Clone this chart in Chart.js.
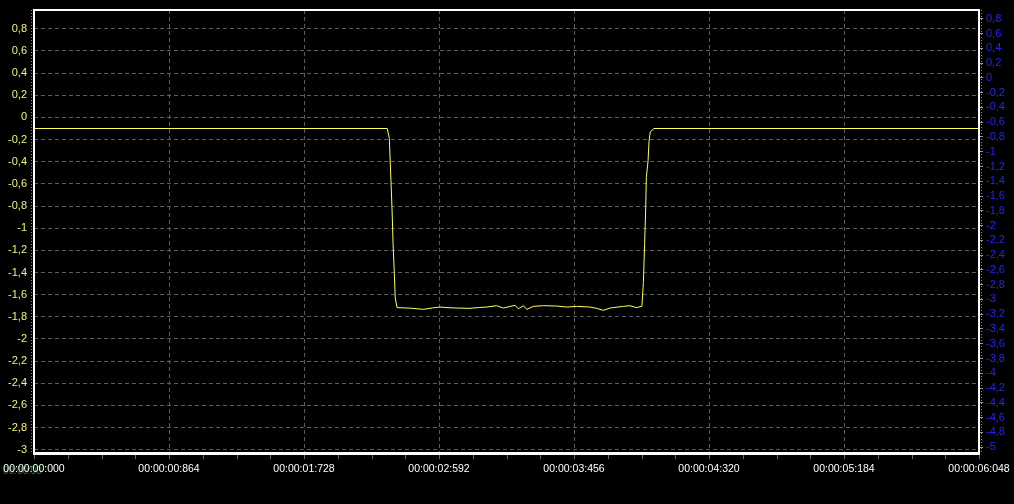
<!DOCTYPE html>
<html>
<head>
<meta charset="utf-8">
<script src="https://cdn.jsdelivr.net/npm/chart.js@4.4.1/dist/chart.umd.min.js"></script>
<style>
  html, body { margin: 0; padding: 0; background: #000; }
  #wrap { width: 1014px; height: 504px; position: relative; }
</style>
</head>
<body>
<div id="wrap"><canvas id="scope" width="1014" height="504"></canvas></div>
<script>
// time in ms, signal in left-axis units
const times = [0, 2261, 2274, 2291, 2298, 2306, 2312, 2323,
  2336, 2406, 2492, 2550, 2598, 2650, 2705, 2790, 2850, 2897, 2961, 3004,
  3078, 3100, 3132, 3153, 3196, 3260, 3345, 3409, 3473, 3558, 3601, 3644,
  3686, 3772, 3814, 3857, 3885,
  3891, 3900, 3908, 3915, 3919, 3930, 3936, 3944, 3968, 6048];
const values = [-0.1, -0.1, -0.19, -0.81, -1.14, -1.41, -1.63, -1.715,
  -1.718, -1.722, -1.733, -1.72, -1.712, -1.718, -1.721, -1.724, -1.716, -1.712, -1.70, -1.721,
  -1.697, -1.727, -1.70, -1.733, -1.706, -1.70, -1.703, -1.712, -1.706, -1.712, -1.724, -1.742,
  -1.721, -1.706, -1.70, -1.718, -1.706,
  -1.697, -1.49, -1.14, -0.81, -0.54, -0.39, -0.22, -0.13, -0.1, -0.1];

const xTicks = [0, 864, 1728, 2592, 3456, 4320, 5184, 6048];
const leftTicks = [0.8, 0.6, 0.4, 0.2, 0, -0.2, -0.4, -0.6, -0.8, -1, -1.2, -1.4, -1.6, -1.8,
  -2, -2.2, -2.4, -2.6, -2.8, -3];
const rightTicks = [0.8, 0.6, 0.4, 0.2, 0, -0.2, -0.4, -0.6, -0.8, -1, -1.2, -1.4, -1.6, -1.8,
  -2, -2.2, -2.4, -2.6, -2.8, -3, -3.2, -3.4, -3.6, -3.8, -4, -4.2, -4.4, -4.6, -4.8, -5];
const xMinorStep = 216;
const cursorText = '00:00:00';

const pad = (n, w) => String(n).padStart(w, '0');
const fmtTime = v => '00:00:' + pad(Math.floor(v / 1000), 2) + ':' + pad(v % 1000, 3);
const fmtNum = v => String(Math.round(v * 10) / 10).replace('.', ',');

const GRID = '#5c5c5c';
const FONT = '"Liberation Sans", Arial, sans-serif';

// keep the plot box where the scope software puts it
function noPad(s) {
    s.paddingLeft = 0;
    s.paddingRight = 0;
    s.paddingTop = 0;
    s.paddingBottom = 0;
}

const frame = {
    id: 'frame',
    beforeDraw(chart) {
        // cursor readout sits under the first time label
        const ctx = chart.ctx;
        ctx.save();
        ctx.fillStyle = '#237a2c';
        ctx.font = '10px ' + FONT;
        ctx.textBaseline = 'middle';
        ctx.fillText(cursorText, 3, 471);
        ctx.restore();
    },
    afterDraw(chart) {
        const {ctx, chartArea: a} = chart;
        const xs = chart.scales.x;
        ctx.save();
        // dotted minor ticks along the side axes
        ctx.strokeStyle = '#8a8a8a';
        ctx.lineWidth = 1;
        ctx.setLineDash([1, 2]);
        ctx.beginPath();
        ctx.moveTo(a.left - 2.5, a.top);
        ctx.lineTo(a.left - 2.5, a.bottom);
        ctx.moveTo(a.right + 2.5, a.top);
        ctx.lineTo(a.right + 2.5, a.bottom);
        ctx.stroke();
        ctx.setLineDash([]);
        // minor ticks under the time axis
        ctx.strokeStyle = '#6a6a6a';
        ctx.beginPath();
        for (let v = 0; v <= xs.max; v += xMinorStep) {
            const px = Math.round(xs.getPixelForValue(v)) + 0.5;
            ctx.moveTo(px, a.bottom + 2);
            ctx.lineTo(px, a.bottom + 6);
        }
        ctx.stroke();
        // white plot frame
        ctx.strokeStyle = '#ffffff';
        ctx.lineWidth = 2;
        ctx.strokeRect(a.left, a.top, a.right - a.left, a.bottom - a.top);
        ctx.lineWidth = 3;
        ctx.beginPath();
        ctx.moveTo(a.left - 1, a.bottom + 0.5);
        ctx.lineTo(a.right + 1, a.bottom + 0.5);
        ctx.stroke();
        ctx.restore();
    }
};

new Chart(document.getElementById('scope'), {
    type: 'line',
    data: {
        datasets: [{
            data: times.map((t, i) => ({x: t, y: values[i]})),
            yAxisID: 'yL',
            borderColor: '#ffff5a',
            borderWidth: 1,
            pointRadius: 0,
            tension: 0,
            fill: false
        }]
    },
    options: {
        responsive: false,
        animation: false,
        events: [],
        layout: { padding: { top: 10, left: 0, right: 0, bottom: 0 } },
        plugins: { legend: { display: false }, tooltip: { enabled: false } },
        scales: {
            x: {
                type: 'linear',
                min: 0,
                max: 6048,
                afterBuildTicks: s => { s.ticks = xTicks.map(v => ({value: v})); },
                afterFit: s => { s.height = 51; noPad(s); },
                grid: { color: GRID, lineWidth: 1, drawTicks: false },
                border: { display: false, dash: [4, 3] },
                ticks: {
                    color: '#ffffff',
                    padding: 10,
                    maxRotation: 0,
                    autoSkip: false,
                    font: { family: FONT, size: 10.5 },
                    callback: v => fmtTime(v)
                }
            },
            yL: {
                position: 'left',
                min: -3.03,
                max: 0.97,
                afterBuildTicks: s => { s.ticks = leftTicks.map(v => ({value: v})); },
                afterFit: s => { s.width = 34; noPad(s); },
                grid: { color: GRID, lineWidth: 1, drawTicks: false },
                border: { display: false, dash: [4, 3] },
                ticks: {
                    color: '#f2f27a',
                    padding: 7,
                    autoSkip: false,
                    font: { family: FONT, size: 11 },
                    callback: v => fmtNum(v)
                }
            },
            yR: {
                position: 'right',
                min: -5.08,
                max: 0.92,
                afterBuildTicks: s => { s.ticks = rightTicks.map(v => ({value: v})); },
                afterFit: s => { s.width = 35; noPad(s); },
                grid: { drawOnChartArea: false, drawTicks: true, tickLength: 4, tickColor: '#9a9a9a' },
                border: { display: false },
                ticks: {
                    color: '#2424f0',
                    padding: 3,
                    autoSkip: false,
                    font: { family: FONT, size: 11 },
                    callback: v => fmtNum(v)
                }
            }
        }
    },
    plugins: [frame]
});
</script>
</body>
</html>
